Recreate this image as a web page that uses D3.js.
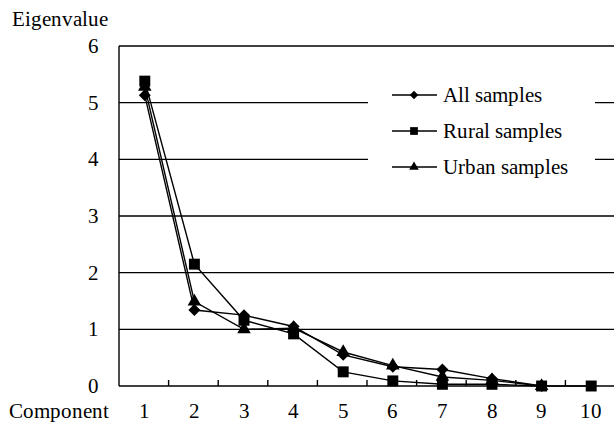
<!DOCTYPE html>
<html><head><meta charset="utf-8">
<script src="https://cdn.jsdelivr.net/npm/d3@7/dist/d3.min.js"></script>
<style>
@font-face{font-family:"ChartSerif";src:local("Liberation Serif"),local("LiberationSerif"),local("Liberation Serif Regular"),local("LiberationSerif-Regular");}
</style>
</head><body style="margin:0"><svg id="c" width="614" height="423"></svg>
<script>
const components = ["1","2","3","4","5","6","7","8","9","10"];
const yTicks = [0,1,2,3,4,5,6];
const allSamples   = [5.13, 1.34, 1.25, 1.05, 0.55, 0.34, 0.29, 0.13, 0];
const ruralSamples = [5.38, 2.15, 1.16, 0.92, 0.25, 0.09, 0.03, 0.03, 0, 0];
const urbanSamples = [5.28, 1.49, 1.00, 1.02, 0.60, 0.36, 0.16, 0.10, 0];
const seriesNames = ["All samples","Rural samples","Urban samples"];

const svg = d3.select("#c");
const L = 119, R = 615, T = 46, B = 386;
const x = d3.scaleBand().domain(components).range([L, R]);
const y = d3.scaleLinear().domain([0, 6]).range([B, T]);
const fs = 21;
const FF = "ChartSerif, 'Liberation Serif', 'Times New Roman', serif";

function txt(sel) { return sel.style("font-family", FF).attr("font-size", fs); }

svg.append("g").selectAll("line").data(yTicks.filter(d => d > 0)).join("line")
  .attr("x1", L).attr("x2", R).attr("y1", d => y(d)).attr("y2", d => y(d))
  .attr("stroke", "#000").attr("stroke-width", 1.4);

svg.append("line").attr("x1", L).attr("x2", L).attr("y1", T).attr("y2", B).attr("stroke", "#000").attr("stroke-width", 1.4);
svg.append("line").attr("x1", L).attr("x2", R).attr("y1", B).attr("y2", B).attr("stroke", "#000").attr("stroke-width", 1.4);
svg.append("g").selectAll("line").data(components.slice(1)).join("line")
  .attr("x1", d => x(d)).attr("x2", d => x(d)).attr("y1", B).attr("y2", B - 6)
  .attr("stroke", "#000").attr("stroke-width", 1.4);

txt(svg.append("g").selectAll("text").data(yTicks).join("text")
  .attr("x", 99).attr("y", d => y(d) + 7).attr("text-anchor", "end")).text(d => d);
txt(svg.append("g").selectAll("text").data(components).join("text")
  .attr("x", d => x(d) + x.bandwidth() / 2 + 1).attr("y", 418).attr("text-anchor", "middle")).text(d => d);

txt(svg.append("text").attr("x", 12).attr("y", 26)).text("Eigenvalue");
txt(svg.append("text").attr("x", 9).attr("y", 418)).text("Component");

const cx = (i) => x(components[i]) + x.bandwidth() / 2 + 1;
const line = d3.line().x((d, i) => cx(i)).y(d => y(d));

const diamond = { draw(ctx, size) { const r = Math.sqrt(size / 2); ctx.moveTo(0, -r); ctx.lineTo(r, 0); ctx.lineTo(0, r); ctx.lineTo(-r, 0); ctx.closePath(); } };
const symbols = [diamond, d3.symbolSquare, d3.symbolTriangle];
const sizes = [72, 120, 80];
const data = [allSamples, ruralSamples, urbanSamples];

data.forEach((s) => {
  svg.append("path").attr("d", line(s)).attr("fill", "none").attr("stroke", "#000").attr("stroke-width", 1.4);
});
[2, 0, 1].forEach(k => {
  const sym = d3.symbol().type(symbols[k]).size(sizes[k]);
  svg.append("g").selectAll("path").data(data[k]).join("path")
    .attr("transform", (d, i) => `translate(${cx(i)},${y(d)})`)
    .attr("d", sym).attr("fill", "#000");
});

const lg = svg.append("g");
lg.append("rect").attr("x", 368).attr("y", 74).attr("width", 227).attr("height", 114).attr("fill", "#fff");
const rowY = [95, 131, 167];
seriesNames.forEach((n, k) => {
  lg.append("line").attr("x1", 392).attr("x2", 437).attr("y1", rowY[k]).attr("y2", rowY[k]).attr("stroke", "#000").attr("stroke-width", 1.4);
  lg.append("path").attr("transform", `translate(414,${rowY[k]})`).attr("d", d3.symbol().type(symbols[k]).size(sizes[k] * 0.5)).attr("fill", "#000");
  txt(lg.append("text").attr("x", 443).attr("y", rowY[k] + 7)).text(n);
});
</script></body></html>
